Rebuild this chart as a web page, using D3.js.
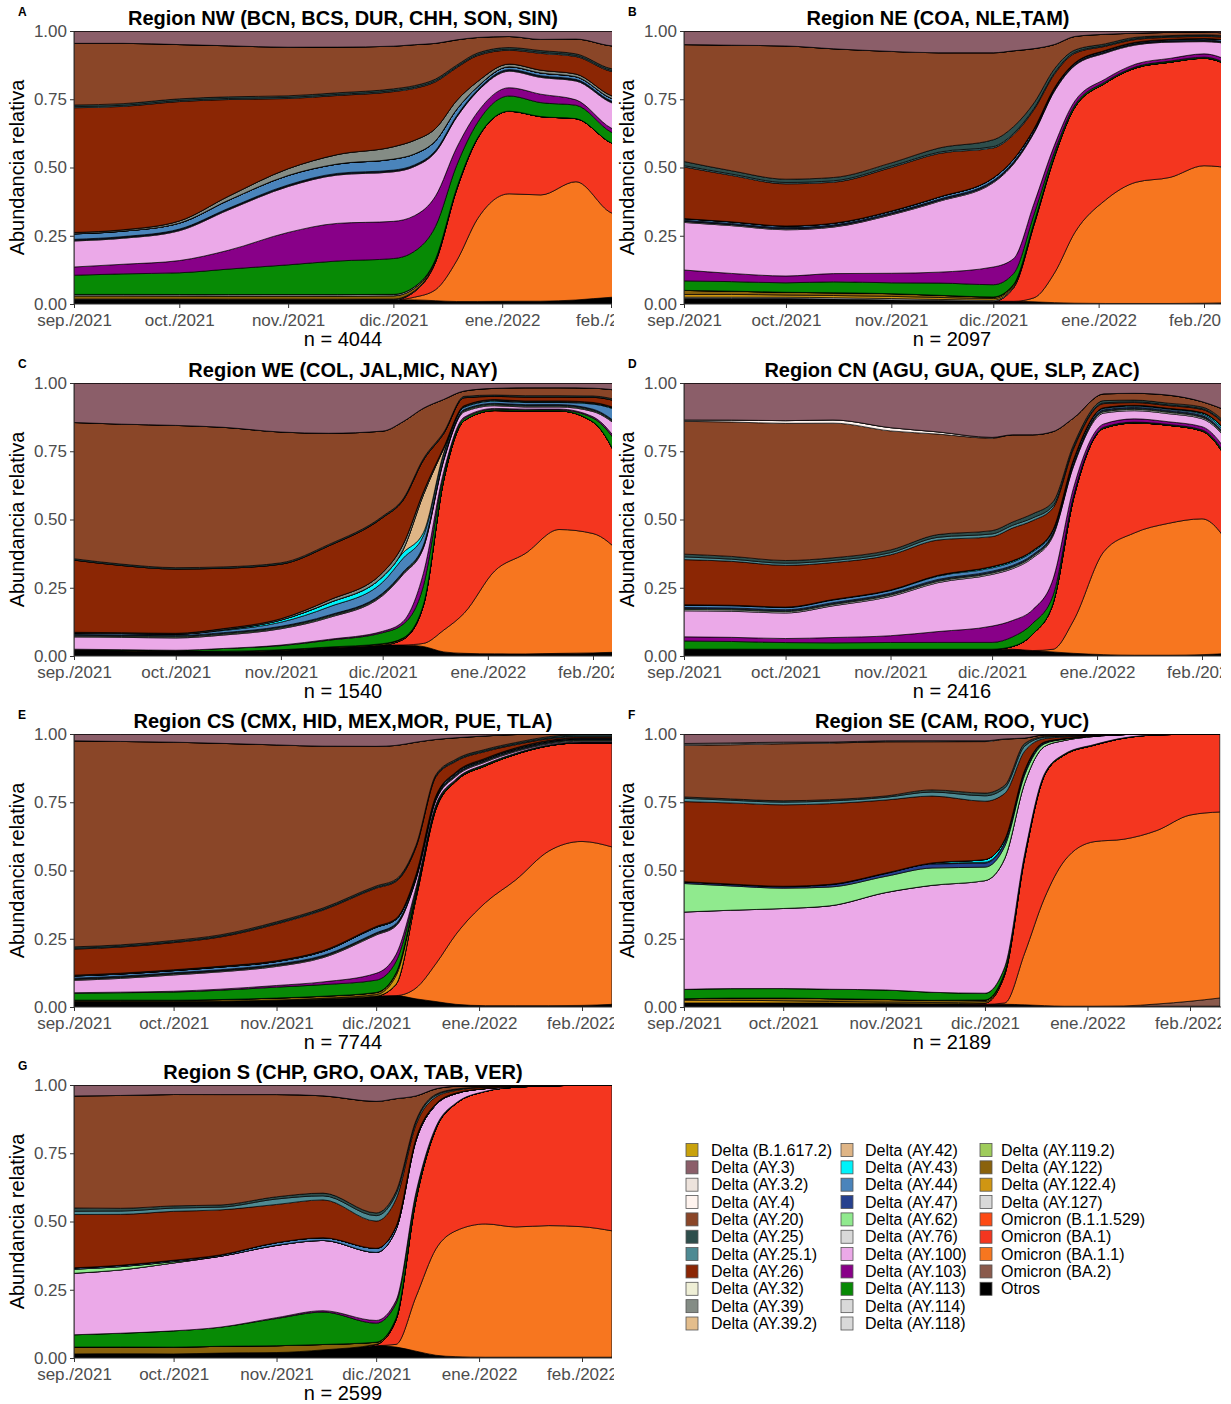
<!DOCTYPE html>
<meta charset="utf-8">
<style>
body { margin: 0; background: #fff; }
text { font-family: "Liberation Sans", Arial, sans-serif; }
.tick text { fill: #4d4d4d; font-size: 17px; }
.tick line, .domain { stroke: #333; }
</style>
<svg width="1231" height="1404"></svg>
<script src="https://d3js.org/d3.v7.min.js"></script>
<script>

// sample dates (smoothed abundance estimates)
var dates = ["2021-09-01","2021-09-15","2021-10-01","2021-10-15","2021-11-01","2021-11-15",
  "2021-12-01","2021-12-07","2021-12-13","2021-12-19","2021-12-25","2022-01-03",
  "2022-01-12","2022-01-22","2022-02-01","2022-02-10"];

// legend order = top of the stack first
var lineageKeys = ["B.1.617.2","AY.3","AY.3.2","AY.4","AY.20","AY.25","AY.25.1","AY.26","AY.32","AY.39","AY.39.2",
  "AY.42","AY.43","AY.44","AY.47","AY.62","AY.76","AY.100","AY.103","AY.113","AY.114","AY.118",
  "AY.119.2","AY.122","AY.122.4","AY.127","B.1.1.529","BA.1","BA.1.1","BA.2","Otros"];
var lineageLabels = ["Delta (B.1.617.2)","Delta (AY.3)","Delta (AY.3.2)","Delta (AY.4)","Delta (AY.20)","Delta (AY.25)",
  "Delta (AY.25.1)","Delta (AY.26)","Delta (AY.32)","Delta (AY.39)","Delta (AY.39.2)",
  "Delta (AY.42)","Delta (AY.43)","Delta (AY.44)","Delta (AY.47)","Delta (AY.62)","Delta (AY.76)",
  "Delta (AY.100)","Delta (AY.103)","Delta (AY.113)","Delta (AY.114)","Delta (AY.118)",
  "Delta (AY.119.2)","Delta (AY.122)","Delta (AY.122.4)","Delta (AY.127)","Omicron (B.1.1.529)",
  "Omicron (BA.1)","Omicron (BA.1.1)","Omicron (BA.2)","Otros"];
var lineageColors = ["#c9a20c","#8b5e69","#ede3dc","#fff4ef","#8a4628","#2e4e4c","#4e8a93","#8b2604","#efefd6","#848c85","#e3bd8c",
  "#dfb586","#00f2fa","#4a84bb","#26408e","#90ea8e","#d9d9d9","#eba9e8","#880088","#078a05","#d9d9d9","#d9d9d9",
  "#9fcc5b","#8a620c","#d09612","#d9d9d9","#fd4a14","#f4361f","#f7761f","#8a5a4c","#000000"];

var xTickLabels = ["sep./2021","oct./2021","nov./2021","dic./2021","ene./2022","feb./2022"];
var xTickDates = ["2021-09-01","2021-10-01","2021-11-01","2021-12-01","2022-01-01","2022-02-01"];
var yTicks = [0, 0.25, 0.5, 0.75, 1];

var regionTitles = ["Region NW (BCN, BCS, DUR, CHH, SON, SIN)","Region NE (COA, NLE,TAM)",
  "Region WE (COL, JAL,MIC, NAY)","Region CN (AGU, GUA, QUE, SLP, ZAC)",
  "Region CS (CMX, HID, MEX,MOR, PUE, TLA)","Region SE (CAM, ROO, YUC)","Region S (CHP, GRO, OAX, TAB, VER)"];
var regionN = [4044, 2097, 1540, 2416, 7744, 2189, 2599];

var nwShares = {
  "Otros":   [.015,.015,.015,.015,.015,.015,.015,.015,.012,.01,.01,.01,.01,.015,.025,.03],
  "BA.1.1":  [0,0,0,0,0,0,0,.01,.04,.16,.32,.39,.38,.44,.315,.28],
  "BA.1":    [0,0,0,0,0,0,0,.02,.10,.28,.31,.30,.28,.235,.26,.25],
  "AY.127":  [.003,.003,.003,.003,.003,.003,.003,.003,.002,.001,0,0,0,0,0,0],
  "AY.122":  [.012,.012,.012,.012,.012,.012,.012,.01,.006,.003,.001,0,0,0,0,0],
  "AY.118":  [.005,.005,.005,.005,.005,.005,.005,.005,.003,.002,.001,0,0,0,0,0],
  "AY.113":  [.07,.075,.08,.095,.11,.125,.13,.13,.12,.09,.06,.055,.05,.05,.04,.04],
  "AY.103":  [.03,.035,.045,.07,.12,.14,.135,.13,.11,.07,.04,.03,.03,.02,.015,.015],
  "AY.100":  [.095,.095,.11,.15,.17,.18,.18,.18,.16,.12,.08,.06,.06,.07,.095,.1],
  "AY.76":   [.003,.003,.003,.003,.003,.003,.003,.003,.003,.003,.003,.003,.003,.003,.003,.003],
  "AY.47":   [.003,.003,.003,.003,.003,.003,.003,.003,.003,.003,.003,.003,.003,.003,.003,.003],
  "AY.44":   [.02,.02,.022,.03,.035,.035,.04,.04,.035,.025,.012,.01,.01,.01,.01,.01],
  "AY.39":   [.005,.005,.008,.015,.025,.035,.045,.05,.045,.035,.02,.01,.01,.01,.01,.01],
  "AY.26":   [.455,.45,.44,.36,.26,.22,.2,.19,.17,.13,.1,.05,.06,.065,.09,.1],
  "AY.25.1": [.004,.004,.004,.004,.004,.004,.004,.004,.004,.004,.004,.004,.004,.004,.004,.004],
  "AY.25":   [.006,.006,.006,.006,.006,.006,.006,.006,.006,.006,.006,.006,.006,.006,.006,.006],
  "AY.20":   [.225,.22,.2,.19,.18,.17,.155,.15,.13,.1,.06,.04,.04,.055,.085,.09],
  "AY.3":    [.045,.045,.05,.055,.06,.06,.055,.05,.045,.035,.025,.02,.03,.03,.055,.06]
};

var neShares = {
  "Otros":   [.02,.02,.02,.018,.015,.013,.01,.01,.008,.005,.003,.002,.002,.002,.003,.005],
  "BA.1.1":  [0,0,0,0,0,0,0,0,.015,.11,.26,.38,.445,.465,.505,.495],
  "BA.1":    [0,0,0,0,0,0,0,.05,.27,.43,.46,.43,.42,.425,.395,.37],
  "AY.127":  [.005,.005,.005,.005,.005,.004,.004,.003,.002,.001,0,0,0,0,0,0],
  "AY.122.4":[.01,.01,.008,.008,.008,.007,.006,.005,.003,.001,0,0,0,0,0,0],
  "AY.122":  [.015,.012,.01,.01,.01,.008,.006,.005,.004,.002,0,0,0,0,0,0],
  "AY.113":  [.035,.035,.035,.04,.04,.045,.045,.04,.03,.015,.008,.005,.004,.004,.004,.004],
  "AY.103":  [.04,.03,.025,.03,.035,.04,.065,.055,.04,.025,.015,.01,.01,.01,.012,.015],
  "AY.100":  [.175,.175,.17,.17,.215,.26,.31,.35,.26,.2,.13,.095,.07,.06,.045,.07],
  "AY.76":   [.004,.004,.004,.004,.004,.004,.004,.004,.004,.004,.003,.003,.003,.003,.003,.003],
  "AY.47":   [.004,.004,.004,.004,.004,.004,.004,.004,.004,.004,.003,.003,.003,.003,.003,.003],
  "AY.44":   [.006,.006,.006,.006,.006,.008,.01,.01,.008,.005,.004,.004,.004,.004,.005,.008],
  "AY.26":   [.19,.17,.155,.15,.16,.16,.11,.09,.07,.05,.035,.015,.01,.008,.008,.01],
  "AY.25.1": [.005,.005,.005,.005,.005,.005,.005,.005,.005,.005,.004,.003,.003,.003,.003,.003],
  "AY.25":   [.015,.012,.012,.012,.012,.015,.025,.025,.02,.015,.008,.006,.005,.003,.003,.003],
  "AY.20":   [.43,.46,.49,.47,.41,.35,.32,.28,.2,.09,.05,.035,.015,.012,.01,.01],
  "AY.3":    [.05,.052,.055,.065,.075,.08,.08,.073,.065,.05,.02,.012,.008,.005,.004,.01]
};

var weShares = {
  "Otros":   [.02,.018,.015,.015,.02,.03,.04,.04,.03,.015,.01,.008,.008,.01,.012,.015],
  "BA.1.1":  [0,0,0,0,0,0,0,0,.01,.08,.15,.31,.38,.47,.46,.36],
  "BA.1":    [0,0,0,0,0,0,0,.02,.12,.55,.72,.60,.54,.45,.43,.32],
  "AY.122":  [.003,.003,.003,.003,.003,.003,.005,.005,.003,.001,0,0,0,0,0,0],
  "AY.113":  [.002,.002,.003,.01,.015,.025,.04,.05,.06,.02,.008,.005,.004,.004,.015,.07],
  "AY.103":  [0,0,0,0,.002,.003,.005,.01,.04,.01,.005,.003,.003,.003,.005,.01],
  "AY.100":  [.045,.045,.045,.05,.06,.08,.13,.17,.08,.04,.02,.01,.008,.008,.02,.07],
  "AY.76":   [.003,.003,.003,.003,.003,.003,.003,.003,.003,.003,.003,.003,.003,.003,.003,.003],
  "AY.62":   [.003,.003,.003,.003,.003,.003,.003,.003,.003,.003,.003,.003,.003,.003,.003,.003],
  "AY.47":   [.003,.003,.003,.003,.003,.003,.003,.003,.003,.003,.003,.003,.003,.003,.003,.003],
  "AY.44":   [.005,.005,.005,.008,.015,.03,.04,.05,.03,.015,.008,.008,.008,.008,.02,.06],
  "AY.43":   [0,0,0,.003,.008,.015,.02,.02,.01,.005,.003,.003,.003,.003,.003,.003],
  "AY.42":   [0,0,0,0,0,0,0,.01,.12,.015,0,0,0,0,0,0],
  "AY.39":   [.003,.003,.003,.004,.005,.01,.015,.02,.01,.005,.003,.003,.003,.003,.003,.003],
  "AY.26":   [.265,.245,.235,.225,.2,.2,.2,.16,.1,.05,.03,.012,.015,.015,.02,.03],
  "AY.25":   [.005,.005,.005,.005,.005,.005,.005,.005,.005,.005,.005,.005,.005,.005,.005,.005],
  "AY.20":   [.5,.51,.52,.52,.48,.41,.31,.28,.16,.12,.02,.025,.03,.03,.03,.04],
  "AY.3":    [.145,.15,.155,.165,.18,.185,.175,.14,.08,.06,.03,.02,.018,.018,.02,.03]
};

var cnShares = {
  "Otros":   [.025,.025,.025,.025,.025,.025,.025,.025,.02,.015,.01,.005,.003,.003,.005,.01],
  "BA.1.1":  [0,0,0,0,0,0,0,0,0,.01,.12,.38,.45,.49,.51,.38],
  "BA.1":    [0,0,0,0,0,0,0,.01,.06,.17,.45,.455,.405,.365,.33,.30],
  "AY.113":  [.03,.028,.025,.025,.025,.025,.025,.035,.04,.03,.01,.004,.003,.003,.004,.01],
  "AY.103":  [.015,.015,.015,.02,.025,.04,.06,.06,.05,.06,.03,.012,.012,.01,.012,.02],
  "AY.100":  [.095,.095,.095,.12,.145,.18,.19,.19,.19,.16,.08,.04,.03,.03,.03,.05],
  "AY.76":   [.005,.005,.005,.005,.005,.005,.005,.005,.005,.005,.005,.005,.005,.005,.005,.005],
  "AY.62":   [.003,.003,.003,.003,.003,.003,.003,.003,.003,.003,.003,.003,.003,.003,.003,.003],
  "AY.47":   [.004,.004,.004,.004,.004,.004,.004,.004,.004,.004,.004,.004,.004,.004,.004,.004],
  "AY.44":   [.008,.008,.008,.01,.01,.012,.012,.012,.01,.008,.01,.005,.005,.005,.006,.01],
  "AY.43":   [.002,.002,.002,.002,.002,.003,.005,.005,.005,.004,.003,.003,.003,.003,.005,.01],
  "AY.26":   [.165,.16,.155,.14,.13,.13,.11,.12,.11,.08,.04,.015,.01,.01,.012,.02],
  "AY.25.1": [.01,.008,.008,.008,.008,.01,.01,.01,.01,.008,.005,.003,.003,.003,.003,.003],
  "AY.25":   [.01,.01,.01,.01,.01,.01,.012,.012,.015,.015,.01,.008,.006,.006,.006,.008],
  "AY.20":   [.485,.49,.51,.51,.44,.37,.34,.32,.29,.26,.1,.025,.025,.03,.02,.06],
  "AY.4":    [.005,.007,.01,.012,.012,.008,.003,0,0,0,0,0,0,0,0,0],
  "AY.3":    [.135,.135,.14,.14,.165,.18,.2,.19,.19,.18,.13,.04,.038,.045,.07,.11]
};

var csShares = {
  "Otros":   [.02,.02,.02,.022,.025,.03,.04,.04,.03,.02,.01,.005,.005,.005,.006,.01],
  "BA.1.1":  [0,0,0,0,0,0,0,0,.04,.14,.26,.385,.47,.58,.615,.59],
  "BA.1":    [0,0,0,0,0,0,0,.04,.33,.57,.57,.51,.47,.395,.37,.39],
  "AY.122.4":[0,0,0,0,0,.002,.005,.03,.01,.003,0,0,0,0,0,0],
  "AY.122":  [.005,.005,.005,.006,.008,.008,.008,.01,.005,.002,.001,0,0,0,0,0],
  "AY.113":  [.025,.027,.03,.035,.04,.043,.045,.04,.015,.008,.004,.004,.003,.002,.002,.002],
  "AY.103":  [.002,.002,.003,.004,.006,.01,.025,.025,.01,.005,.003,.002,.001,.001,.001,.001],
  "AY.100":  [.045,.05,.06,.065,.07,.09,.14,.1,.03,.015,.01,.008,.006,.004,.003,.003],
  "AY.76":   [.003,.003,.003,.003,.003,.003,.003,.003,.003,.003,.003,.003,.003,.003,.003,.003],
  "AY.62":   [.002,.002,.002,.002,.002,.002,.002,.002,.002,.002,.002,.002,.002,.002,.002,.002],
  "AY.47":   [.003,.003,.003,.003,.003,.003,.003,.003,.003,.003,.003,.003,.003,.003,.003,.003],
  "AY.44":   [.008,.008,.008,.01,.01,.015,.02,.015,.008,.006,.005,.003,.003,.002,.002,.002],
  "AY.39":   [.003,.003,.003,.003,.003,.003,.003,.003,.003,.003,.003,.003,.003,.003,.003,.003],
  "AY.26":   [.095,.095,.1,.11,.135,.15,.14,.13,.1,.07,.04,.025,.012,.006,.004,.004],
  "AY.25.1": [.003,.003,.003,.003,.003,.003,.003,.003,.003,.003,.003,.003,.003,.003,.003,.003],
  "AY.25":   [.005,.005,.005,.005,.005,.005,.005,.005,.005,.005,.005,.005,.005,.005,.005,.005],
  "AY.20":   [.75,.74,.73,.72,.65,.6,.51,.47,.38,.13,.08,.05,.03,.01,.002,.002],
  "AY.3":    [.025,.027,.03,.035,.04,.045,.045,.04,.03,.02,.014,.007,.002,0,0,0]
};

var seShares = {
  "Otros":   [.015,.015,.015,.015,.013,.012,.01,.01,.008,.005,.003,.003,.003,.003,.003,.003],
  "BA.2":    [0,0,0,0,0,0,0,0,0,0,0,0,.001,.008,.018,.03],
  "BA.1.1":  [0,0,0,0,0,0,0,.005,.19,.395,.535,.605,.61,.635,.68,.68],
  "BA.1":    [0,0,0,0,0,0,.005,.105,.35,.45,.39,.355,.37,.35,.295,.285],
  "AY.122.4":[.01,.01,.008,.006,.005,.005,.005,.004,.002,0,0,0,0,0,0,0],
  "AY.122":  [.005,.008,.01,.01,.01,.008,.006,.005,.003,.001,0,0,0,0,0,0],
  "AY.113":  [.035,.035,.035,.035,.035,.03,.025,.02,.01,.005,.003,.002,.001,0,0,0],
  "AY.100":  [.285,.29,.295,.31,.36,.4,.415,.4,.26,.1,.05,.03,.012,.003,.001,0],
  "AY.62":   [.105,.09,.075,.07,.06,.065,.05,.045,.03,.01,.005,.002,0,0,0,0],
  "AY.47":   [.005,.005,.005,.008,.01,.015,.015,.012,.008,.003,.001,0,0,0,0,0],
  "AY.44":   [.002,.002,.002,.002,.002,.002,.003,.003,.002,.001,0,0,0,0,0,0],
  "AY.43":   [0,0,0,0,0,.002,.01,.01,.008,.003,.001,0,0,0,0,0],
  "AY.26":   [.295,.3,.3,.3,.27,.25,.215,.17,.07,.012,.006,.002,.001,0,0,0],
  "AY.25.1": [.012,.01,.01,.01,.01,.015,.02,.02,.018,.005,.003,.001,0,0,0,0],
  "AY.25":   [.005,.005,.005,.005,.005,.008,.01,.01,.01,.003,.002,.001,0,0,0,0],
  "AY.20":   [.19,.2,.21,.21,.2,.18,.19,.17,.02,.006,.004,.002,.001,0,0,0],
  "AY.4":    [.004,.004,.003,.002,.002,.002,.002,.001,0,0,0,0,0,0,0,0],
  "AY.3.2":  [.003,.003,.003,.002,.002,.002,.001,0,0,0,0,0,0,0,0,0],
  "AY.3":    [.035,.033,.03,.03,.025,.025,.025,.018,.015,.003,.002,.001,0,0,0,0]
};

var sShares = {
  "Otros":   [.015,.015,.015,.018,.02,.03,.045,.04,.025,.01,.005,.003,.003,.003,.003,.003],
  "BA.1.1":  [0,0,0,0,0,0,0,.01,.2,.39,.465,.492,.48,.482,.477,.462],
  "BA.1":    [0,0,0,0,0,0,.005,.09,.355,.44,.47,.49,.515,.512,.517,.532],
  "AY.122":  [.025,.025,.025,.025,.025,.02,.008,.006,.003,.001,0,0,0,0,0,0],
  "AY.113":  [.045,.05,.06,.07,.1,.12,.07,.055,.02,.005,.002,0,0,0,0,0],
  "AY.103":  [0,0,0,0,.003,.005,.01,.01,.005,.002,0,0,0,0,0,0],
  "AY.100":  [.225,.23,.25,.26,.265,.26,.25,.26,.19,.08,.035,.01,.002,0,0,0],
  "AY.62":   [.015,.012,.005,0,0,0,0,0,0,0,0,0,0,0,0,0],
  "AY.44":   [.005,.005,.005,.005,.01,.01,.015,.012,.008,.004,.002,0,0,0,0,0],
  "AY.26":   [.195,.185,.18,.165,.14,.14,.1,.1,.05,.025,.01,.005,.002,0,0,0],
  "AY.25.1": [.012,.012,.012,.01,.02,.015,.02,.018,.01,.006,.003,.001,0,0,0,0],
  "AY.25":   [.012,.01,.008,.008,.008,.01,.01,.01,.006,.004,.002,0,0,0,0,0],
  "AY.20":   [.41,.41,.41,.405,.375,.36,.41,.34,.09,.02,.01,.004,.002,.002,0,0],
  "AY.3":    [.04,.038,.035,.035,.035,.04,.06,.05,.04,.014,.005,.003,.002,.001,.001,.001]
};

var regionShares = [nwShares, neShares, weShares, cnShares, csShares, seShares, sShares];

// panel placement in the composite
var plotH = 273;
var panels = [
  {letter: "A", x0: 74,  xFeb: 611,  right: 612,  top: 31,   titleX: 343, nX: 343, col: 0},
  {letter: "B", x0: 684, xFeb: 1204, right: 1221, top: 31,   titleX: 938, nX: 952, col: 1},
  {letter: "C", x0: 74,  xFeb: 593,  right: 612,  top: 383,  titleX: 343, nX: 343, col: 0},
  {letter: "D", x0: 684, xFeb: 1202, right: 1221, top: 383,  titleX: 952, nX: 952, col: 1},
  {letter: "E", x0: 74,  xFeb: 582,  right: 612,  top: 734,  titleX: 343, nX: 343, col: 0},
  {letter: "F", x0: 684, xFeb: 1190, right: 1221, top: 734,  titleX: 952, nX: 952, col: 1},
  {letter: "G", x0: 74,  xFeb: 582,  right: 612,  top: 1085, titleX: 343, nX: 343, col: 0}
];
var colBounds = [[0, 614], [614, 1221]];
var letterX = [18, 628];

var parse = d3.timeParse("%Y-%m-%d");
var parsedDates = dates.map(parse);
var tickDates = xTickDates.map(parse);
var stackKeys = lineageKeys.slice().reverse(); // Otros at the bottom
var colorOf = {};
lineageKeys.forEach(function(k, i) { colorOf[k] = lineageColors[i]; });

var svg = d3.select("svg");
svg.append("rect").attr("width", 1231).attr("height", 1404).attr("fill", "#fff");
var defs = svg.append("defs");

panels.forEach(function(p, pi) {
  var bottom = p.top + plotH;
  var shares = regionShares[pi];

  defs.append("clipPath").attr("id", "col" + pi).append("rect")
    .attr("x", colBounds[p.col][0]).attr("y", p.top - 40)
    .attr("width", colBounds[p.col][1] - colBounds[p.col][0]).attr("height", plotH + 100);
  defs.append("clipPath").attr("id", "plot" + pi).append("rect")
    .attr("x", p.x0).attr("y", p.top).attr("width", p.right - p.x0).attr("height", plotH);

  var g = svg.append("g").attr("clip-path", "url(#col" + pi + ")");

  var x = d3.scaleTime().domain([tickDates[0], tickDates[5]]).range([p.x0, p.xFeb]);
  var y = d3.scaleLinear().domain([0, 1]).range([bottom, p.top]);

  var rows = parsedDates.map(function(d, i) {
    var r = {date: d};
    stackKeys.forEach(function(k) { r[k] = shares[k] ? shares[k][i] : 0; });
    return r;
  });
  var series = d3.stack().keys(stackKeys).offset(d3.stackOffsetExpand)(rows);

  var area = d3.area()
    .curve(d3.curveMonotoneX)
    .x(function(d) { return x(d.data.date); })
    .y0(function(d) { return y(d[0]); })
    .y1(function(d) { return y(d[1]); });

  g.append("g").attr("clip-path", "url(#plot" + pi + ")")
    .selectAll("path").data(series).join("path")
    .attr("d", area)
    .attr("fill", function(s) { return colorOf[s.key]; })
    .attr("stroke", "#000")
    .attr("stroke-width", 0.7)
    .attr("stroke-linejoin", "round");

  // axes
  g.append("g").attr("transform", "translate(" + p.x0 + ",0)")
    .call(d3.axisLeft(y).tickValues(yTicks).tickFormat(d3.format(".2f")).tickSize(4).tickSizeOuter(0).tickPadding(3))
    .call(function(a) { a.select(".domain").attr("d", "M0," + p.top + "V" + bottom); });
  g.append("g").attr("transform", "translate(0," + bottom + ")")
    .call(d3.axisBottom(x).tickValues(tickDates).tickFormat(function(d, i) { return xTickLabels[i]; })
      .tickSize(4).tickSizeOuter(0).tickPadding(6))
    .call(function(a) { a.select(".domain").attr("d", "M" + p.x0 + ",0H" + p.right); });
  g.selectAll(".tick text").attr("font-family", null);

  // texts
  g.append("text").attr("x", p.titleX).attr("y", p.top - 6)
    .attr("text-anchor", "middle").attr("font-weight", "bold").attr("font-size", 20)
    .text(regionTitles[pi]);
  g.append("text").attr("x", p.nX).attr("y", bottom + 42)
    .attr("text-anchor", "middle").attr("font-size", 20)
    .text("n = " + regionN[pi]);
  g.append("text")
    .attr("transform", "translate(" + (p.col === 0 ? 24 : 634) + "," + (p.top + plotH / 2) + ") rotate(-90)")
    .attr("text-anchor", "middle").attr("font-size", 20)
    .text("Abundancia relativa");
  svg.append("text").attr("x", letterX[p.col]).attr("y", p.top - 15)
    .attr("font-weight", "bold").attr("font-size", 12)
    .text(p.letter);
});

// legend
var legendCols = [{sx: 686, tx: 711}, {sx: 841, tx: 865}, {sx: 980, tx: 1001}];
var legend = svg.append("g");
lineageKeys.forEach(function(k, i) {
  var c = Math.floor(i / 11), r = i % 11;
  var cy = 1150 + r * 17.35;
  legend.append("rect")
    .attr("x", legendCols[c].sx).attr("y", cy - 6.5)
    .attr("width", 12).attr("height", 13)
    .attr("fill", lineageColors[i]).attr("stroke", "#555").attr("stroke-width", 0.8);
  legend.append("text")
    .attr("x", legendCols[c].tx).attr("y", cy + 5.5)
    .attr("font-size", 16)
    .text(lineageLabels[i]);
});

</script>
